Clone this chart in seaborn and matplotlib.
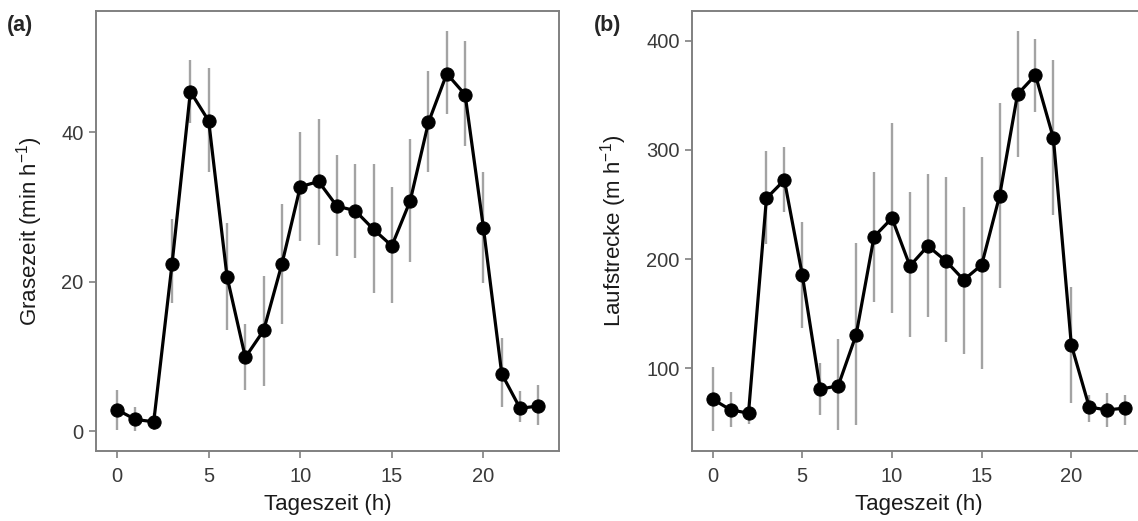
import numpy as np
import pandas as pd
import seaborn as sns
import matplotlib.pyplot as plt

# hours of the day
hours = list(range(24))

# (a) grazing time, min per hour: mean, lower and upper end of the error bar
graze_mean = [2.9, 1.6, 1.3, 22.4, 45.4, 41.5, 20.7, 9.9, 13.5, 22.4, 32.7, 33.4,
              30.1, 29.5, 27.0, 24.8, 30.8, 41.3, 47.8, 45.0, 27.2, 7.7, 3.1, 3.4]
graze_low = [0.2, 0.0, 0.2, 17.1, 41.2, 34.6, 13.5, 5.5, 6.1, 14.4, 25.5, 24.9,
             23.5, 23.2, 18.5, 17.1, 22.6, 34.7, 42.4, 38.1, 19.8, 3.3, 1.2, 0.9]
graze_high = [5.5, 3.3, 2.5, 28.4, 49.6, 48.6, 27.9, 14.4, 20.8, 30.4, 40.0, 41.8,
              36.9, 35.7, 35.7, 32.7, 39.1, 48.1, 53.5, 52.1, 34.7, 12.5, 5.4, 6.2]

# (b) walking distance, m per hour
walk_mean = [71.6, 61.8, 58.8, 255.7, 272.4, 185.4, 80.8, 83.8, 130.5, 220.5, 237.5, 193.7,
             212.0, 198.4, 180.9, 194.6, 257.9, 351.0, 368.6, 310.9, 121.4, 64.3, 61.8, 63.4]
walk_low = [42.0, 46.0, 49.0, 213.8, 243.4, 136.6, 57.2, 43.5, 48.1, 161.0, 150.6, 128.7,
            147.0, 124.0, 113.0, 99.4, 173.5, 293.5, 334.7, 240.4, 68.2, 51.0, 46.5, 48.0]
walk_high = [101.5, 78.6, 65.0, 299.0, 302.4, 234.2, 104.6, 126.6, 215.0, 280.0, 324.6, 261.5,
             278.0, 275.5, 247.7, 293.5, 343.0, 409.0, 401.6, 382.3, 174.5, 75.5, 77.0, 75.5]

xticks = [0, 5, 10, 15, 20]

sns.set_theme(style="ticks")
plt.rcParams["font.family"] = ["Liberation Sans", "DejaVu Sans"]
plt.rcParams["mathtext.fontset"] = "custom"
plt.rcParams["mathtext.rm"] = "Liberation Sans"
plt.rcParams["mathtext.it"] = "Liberation Sans:italic"
plt.rcParams["mathtext.default"] = "regular"

fig = plt.figure(figsize=(11.38, 5.21), dpi=100)
ax_a = fig.add_axes([0.0844, 0.1334, 0.4072, 0.8455])
ax_b = fig.add_axes([0.6081, 0.1334, 0.3987, 0.8455])

panels = [
    (ax_a, graze_mean, graze_low, graze_high, "Grasezeit (min h$^{-1}$)", [0, 20, 40], "(a)", 0.006),
    (ax_b, walk_mean, walk_low, walk_high, "Laufstrecke (m h$^{-1}$)", [100, 200, 300, 400], "(b)", 0.522),
]

for ax, mean, low, high, ylabel, yticks, tag, tag_x in panels:
    df = pd.DataFrame({"hour": hours, "value": mean, "low": low, "high": high})
    ax.vlines(df["hour"], df["low"], df["high"], color="#a3a3a3", linewidth=1.7, zorder=1)
    sns.lineplot(data=df, x="hour", y="value", ax=ax, color="black", linewidth=2.3,
                 marker="o", markersize=9.5, markeredgecolor="black", zorder=3)
    ax.set_xlim(-1.15, 24.15)
    ax.set_xticks(xticks)
    ax.set_yticks(yticks)
    ax.set_xlabel("Tageszeit (h)", fontsize=16, color="#1a1a1a", labelpad=6)
    ax.set_ylabel(ylabel, fontsize=16, color="#1a1a1a", labelpad=12)
    ax.tick_params(axis="both", labelsize=14.5, labelcolor="#3a3a3a", color="#808080",
                   length=5, width=1.2)
    ax.tick_params(axis="x", pad=6)
    ax.tick_params(axis="y", pad=4)
    for sp in ax.spines.values():
        sp.set_visible(True)
        sp.set_color("#808080")
        sp.set_linewidth(1.4)
    fig.text(tag_x, 0.952, tag, fontsize=15.5, fontweight="bold", ha="left", va="center")

fig.savefig("out.png", dpi=100)
plt.close(fig)
